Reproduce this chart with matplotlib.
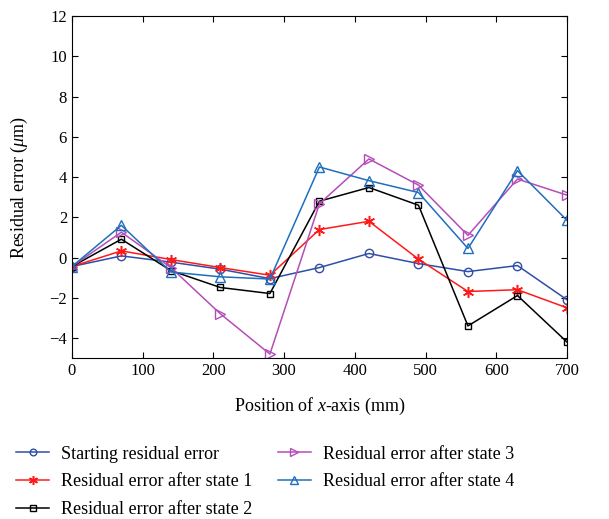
import matplotlib
matplotlib.use("Agg")
import matplotlib.pyplot as plt
import numpy as np

plt.rcParams['font.family'] = ['Liberation Serif', 'DejaVu Serif']
plt.rcParams['mathtext.fontset'] = 'custom'
plt.rcParams['mathtext.it'] = 'Liberation Serif:italic'
plt.rcParams['mathtext.rm'] = 'Liberation Serif'

# positions along x-axis (mm)
position = [0, 70, 140, 210, 280, 350, 420, 490, 560, 630, 700]

# residual errors (um)
starting = [-0.45, 0.08, -0.23, -0.58, -1.05, -0.5, 0.2, -0.3, -0.7, -0.4, -2.1]
state1 = [-0.45, 0.33, -0.1, -0.5, -0.88, 1.39, 1.8, -0.08, -1.69, -1.6, -2.5]
state2 = [-0.45, 0.91, -0.65, -1.49, -1.79, 2.8, 3.48, 2.6, -3.4, -1.89, -4.2]
state3 = [-0.45, 1.26, -0.5, -2.8, -4.8, 2.67, 4.9, 3.6, 1.1, 3.9, 3.1]
state4 = [-0.45, 1.6, -0.72, -0.96, -1.07, 4.5, 3.82, 3.23, 0.45, 4.32, 1.85]

labels = ["Starting residual error",
          "Residual error after state 1",
          "Residual error after state 2",
          "Residual error after state 3",
          "Residual error after state 4"]

fig = plt.figure(figsize=(6.09, 5.19), dpi=100)
ax = fig.add_axes([0.118, 0.31, 0.813, 0.659])

ms = 6
ax.plot(position, starting, color='#2f4fa6', marker='o', ms=ms, mfc='none', lw=1.1, label=labels[0])
ax.plot(position, state1, color='#ff1a1a', marker=(6, 2, 0), ms=8, mew=1.1, lw=1.1, label=labels[1])
ax.plot(position, state2, color='black', marker='s', ms=5, mfc='none', lw=1.1, label=labels[2])
ax.plot(position, state3, color='#b54db8', marker='>', ms=7, mfc='none', lw=1.1, label=labels[3])
ax.plot(position, state4, color='#1f6fbd', marker='^', ms=7, mfc='none', lw=1.1, label=labels[4])

ax.set_xlim(0, 700)
ax.set_ylim(-5, 12)
ax.set_xticks(np.arange(0, 701, 100))
ax.set_yticks(np.arange(-4, 13, 2))
ax.set_yticklabels([str(v).replace('-', '\u2212') for v in range(-4, 13, 2)])
ax.tick_params(direction='in', top=True, right=True, labelsize=12, length=4)
ax.set_xlabel('Position of $x$-axis (mm)', fontsize=13, labelpad=12)
ax.set_ylabel('Residual error ($\\mu$m)', fontsize=13, labelpad=14)

leg = fig.legend(loc='lower left', bbox_to_anchor=(0.0, -0.03), ncol=2, frameon=False,
                 fontsize=13, handlelength=1.8, columnspacing=1.4, labelspacing=0.6,
                 handletextpad=0.7, markerscale=0.8)

fig.savefig('out.png', dpi=100)
